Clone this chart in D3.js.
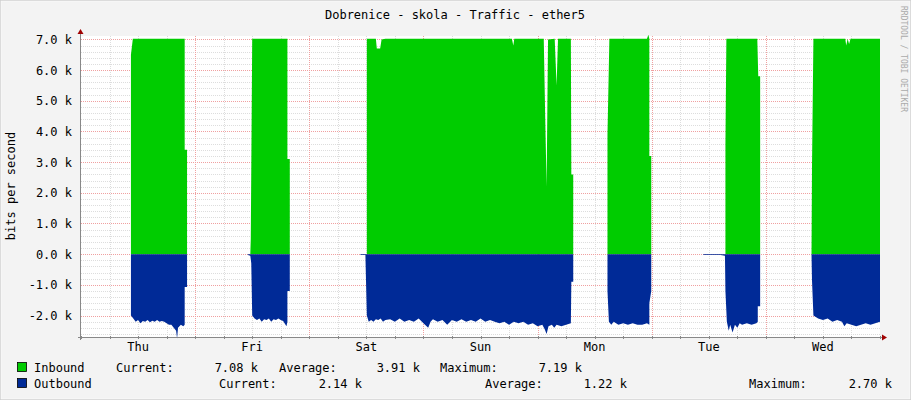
<!DOCTYPE html>
<html><head><meta charset="utf-8">
<script src="https://cdn.jsdelivr.net/npm/d3@7"></script>
<style>body{margin:0;background:#f3f3f3}</style></head>
<body><svg id="c" width="911" height="400"></svg>
<script>
const title = "Dobrenice - skola - Traffic - ether5";
const dayLabels = ["Thu","Fri","Sat","Sun","Mon","Tue","Wed"];
const yTicks = [-2,-1,0,1,2,3,4,5,6,7];
// inbound [hour since Thu 00:00, kbit/s]
const inbound = [
 [0,0],[10.5,0],[10.5,6.5],[10.9,7.02],[21.8,7.02],[21.8,3.4],[22.3,3.4],[22.3,0],
 [35.6,0],[35.7,0.5],[36.0,7.02],[43.4,7.02],[43.4,3.1],[43.9,3.1],[43.9,0],
 [60.1,0],[60.1,7.02],[62.0,7.02],[62.2,6.7],[62.9,6.7],[63.2,7.0],[64,7.02],[90.6,7.02],[90.9,6.8],[91.1,7.02],
 [97.3,7.02],[97.6,4.5],[97.9,2.2],[98.2,7.0],[99.6,7.02],[100.0,5.5],[100.3,7.02],[103.0,7.02],[103.1,2.6],[103.5,2.6],[103.5,0],
 [110.7,0],[110.7,3.9],[111.1,7.02],[119.0,7.02],[119.3,7.15],[119.5,7.02],[119.5,3.2],[119.9,3.2],[119.9,0],
 [135.5,0],[135.5,3.6],[135.7,7.02],[142.2,7.02],[142.4,5.8],[142.8,5.8],[142.8,0],
 [153.6,0],[153.7,2.8],[154.0,7.02],[160.7,7.02],[160.9,6.8],[161.2,7.02],[161.5,6.85],[161.8,7.02],[168,7.02]
];
// outbound [hour, kbit/s] (negative = drawn downward)
const outbound = [
 [0,0],[10.5,0],[10.5,-2.0],[11,-2.1],[11.5,-2.2],[12,-2.15],[12.5,-2.25],[13,-2.18],[13.5,-2.2],[14,-2.15],[14.5,-2.22],[15,-2.17],[15.5,-2.2],[16,-2.15],[16.5,-2.2],[17,-2.18],[17.5,-2.2],[18,-2.25],[18.5,-2.3],[19,-2.3],[19.5,-2.4],[20.0,-2.5],[20.2,-2.75],[20.4,-2.4],[21,-2.3],[21.5,-2.35],[21.8,-2.3],[21.8,-1.07],[22.3,-1.07],[22.3,0],
 [35.0,0],[35.1,-0.03],[35.6,-0.05],[35.8,-0.3],[36.0,-2.0],[36.5,-2.1],[37,-2.15],[37.5,-2.1],[38,-2.2],[38.5,-2.12],[39,-2.15],[39.5,-2.1],[40,-2.2],[40.5,-2.12],[41,-2.15],[41.5,-2.1],[42,-2.15],[42.5,-2.18],[43.2,-2.35],[43.4,-2.2],[43.4,-1.2],[43.9,-1.2],[43.9,0],
 [58.7,0],[58.8,-0.03],[59.8,-0.03],[60.1,-2.0],[60.5,-2.2],[61,-2.15],[61.5,-2.2],[62,-2.12],[62.5,-2.15],[63,-2.1],[63.5,-2.2],[64,-2.15],[65,-2.12],[66,-2.2],[67,-2.1],[68,-2.2],[69,-2.15],[70,-2.2],[71,-2.1],[72,-2.25],[73,-2.4],[73.5,-2.2],[74,-2.12],[75,-2.2],[76,-2.15],[77,-2.3],[78,-2.15],[79,-2.2],[80,-2.12],[81,-2.2],[82,-2.15],[83,-2.2],[84,-2.1],[85,-2.2],[86,-2.15],[87,-2.2],[88,-2.25],[89,-2.2],[90,-2.3],[91,-2.2],[92,-2.25],[93,-2.2],[94,-2.3],[95,-2.25],[96,-2.35],[97,-2.3],[97.5,-2.45],[97.9,-2.6],[98.3,-2.35],[99,-2.3],[99.5,-2.4],[100,-2.3],[101,-2.35],[102,-2.3],[103,-2.25],[103.1,-0.9],[103.5,-0.9],[103.5,0],
 [110.7,0],[110.7,-1.2],[111.0,-2.2],[111.5,-2.3],[112,-2.2],[113,-2.3],[114,-2.25],[115,-2.3],[116,-2.25],[117,-2.3],[118,-2.3],[119,-2.25],[119.5,-2.3],[119.5,-1.6],[119.9,-1.2],[119.9,0],
 [130.8,0],[130.9,-0.03],[132.5,-0.03],[133,-0.03],[134.5,-0.03],[135.4,-0.05],[135.5,-1.2],[135.8,-2.2],[136.2,-2.5],[136.5,-2.3],[137,-2.55],[137.5,-2.3],[138,-2.4],[138.5,-2.25],[139,-2.3],[140,-2.25],[141,-2.3],[142,-2.25],[142.3,-2.2],[142.3,-1.7],[142.8,-1.7],[142.8,0],
 [153.6,0],[153.7,-0.85],[154.0,-2.0],[155,-2.1],[156,-2.15],[157,-2.1],[158,-2.2],[159,-2.15],[160,-2.2],[160.5,-2.35],[161,-2.25],[162,-2.3],[163,-2.35],[164,-2.3],[165,-2.25],[166,-2.3],[167,-2.25],[168,-2.2]
];
const legend = [
 {name:"Inbound", color:"#00cc00", cur:"7.08 k", avg:"3.91 k", max:"7.19 k"},
 {name:"Outbound", color:"#002a97", cur:"2.14 k", avg:"1.22 k", max:"2.70 k"}
];

const svg = d3.select("#c");
const F = "DejaVu Sans Mono, monospace";
svg.append("rect").attr("x",0.5).attr("y",0.5).attr("width",910).attr("height",399).attr("fill","#f3f3f3").attr("stroke","#cfcfcf");
svg.append("rect").attr("x",1).attr("y",1).attr("width",909).attr("height",398).attr("fill","none").attr("stroke","#fff").attr("stroke-width",0.5);
const L=81,R=880,T=36,B=337;
const x = d3.scaleLinear().domain([0,168]).range([L,R]);
const y = d3.scaleLinear().domain([-2.7,7.11]).range([B,T]);
const g = svg.append("g");
g.append("rect").attr("x",L).attr("y",T).attr("width",R-L).attr("height",B-T).attr("fill","#fff");
// minor grid
const minorY = d3.range(-13,36).map(d=>d/5).filter(v=>Math.abs(v-Math.round(v))>1e-6);
g.selectAll(".my").data(minorY).join("line").attr("x1",L).attr("x2",R).attr("y1",d=>Math.round(y(d))+0.5).attr("y2",d=>Math.round(y(d))+0.5).attr("stroke","#ddd").attr("stroke-dasharray","1,1");
const minorX = d3.range(1,28).map(d=>d*6).filter(h=>h%24!==0);
g.selectAll(".mx").data(minorX).join("line").attr("x1",d=>Math.round(x(d))+0.5).attr("x2",d=>Math.round(x(d))+0.5).attr("y1",T).attr("y2",B).attr("stroke","#ddd").attr("stroke-dasharray","1,1");
// major grid
g.selectAll(".My").data(yTicks).join("line").attr("x1",L).attr("x2",R).attr("y1",d=>Math.round(y(d))+0.5).attr("y2",d=>Math.round(y(d))+0.5).attr("stroke","#f0a0a0").attr("stroke-dasharray","1,1");
g.selectAll(".Mx").data(d3.range(1,7).map(d=>d*24)).join("line").attr("x1",d=>Math.round(x(d))+0.5).attr("x2",d=>Math.round(x(d))+0.5).attr("y1",T).attr("y2",B).attr("stroke","#f0a0a0").attr("stroke-dasharray","1,1");
// areas
const area = d3.area().x(d=>x(d[0])).y0(y(0)).y1(d=>y(d[1]));
g.append("path").datum(inbound).attr("d",area).attr("fill","#00cc00");
g.append("path").datum(outbound).attr("d",area).attr("fill","#002a97");
// axes
g.append("line").attr("x1",L-0.5).attr("x2",L-0.5).attr("y1",T-4).attr("y2",B+3).attr("stroke","#888");
g.append("line").attr("x1",L-3).attr("x2",R+4).attr("y1",B+0.5).attr("y2",B+0.5).attr("stroke","#888");
g.append("path").attr("d",`M${L-3.5},${T-2}L${L+2.5},${T-2}L${L-0.5},${T-7}Z`).attr("fill","#a00000");
g.append("path").attr("d",`M${R+2},${B-2.5}L${R+2},${B+3.5}L${R+7},${B+0.5}Z`).attr("fill","#a00000");
g.selectAll(".tk").data(d3.range(0,29).map(d=>d*6)).join("line").attr("x1",d=>Math.round(x(d))+0.5).attr("x2",d=>Math.round(x(d))+0.5).attr("y1",B-1).attr("y2",B+2).attr("stroke","#888");
g.selectAll(".yt").data(yTicks).join("text").attr("x",72).attr("y",d=>y(d)+4.5).attr("text-anchor","end").attr("font-family",F).attr("font-size",12).attr("fill","#000")
 .text(d=>(d<0?"-":"")+Math.abs(d).toFixed(1)+" k");
g.selectAll(".xt").data(dayLabels).join("text").attr("x",(d,i)=>x(i*24+12)).attr("y",351).attr("text-anchor","middle").attr("font-family",F).attr("font-size",12).text(d=>d);
svg.append("text").attr("x",455).attr("y",19).attr("text-anchor","middle").attr("font-family",F).attr("font-size",12).text(title);
svg.append("text").attr("transform","translate(15,186) rotate(-90)").attr("text-anchor","middle").attr("font-family",F).attr("font-size",12).text("bits per second");
svg.append("text").attr("transform","translate(901,6) rotate(90)").attr("font-family",F).attr("font-size",8).attr("fill","#aaa").text("RRDTOOL / TOBI OETIKER");
// legend
const lg = svg.append("g").attr("font-family",F).attr("font-size",12);
const cols = [
 {lab:[116,279,440], val:[258,420,582]},
 {lab:[219,485,749], val:[362,627,892]}
];
legend.forEach((s,i)=>{
  const yy = 372 + i*16;
  lg.append("rect").attr("x",17.5).attr("y",yy-9.5).attr("width",9).attr("height",9).attr("fill",s.color).attr("stroke","#000").attr("stroke-width",0.8);
  lg.append("text").attr("x",34).attr("y",yy).text(s.name);
  const labs=["Current:","Average:","Maximum:"], vals=[s.cur,s.avg,s.max];
  labs.forEach((t,j)=>{
    lg.append("text").attr("x",cols[i].lab[j]).attr("y",yy).text(t);
    lg.append("text").attr("x",cols[i].val[j]).attr("y",yy).attr("text-anchor","end").text(vals[j]);
  });
});
</script></body></html>
